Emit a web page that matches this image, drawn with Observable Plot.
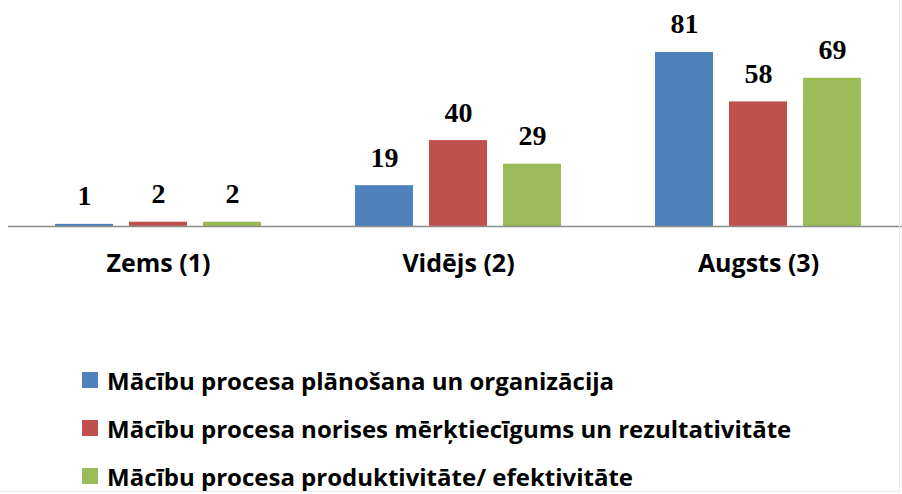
<!DOCTYPE html>
<html>
<head>
<meta charset="utf-8">
<script src="https://cdn.jsdelivr.net/npm/d3@7"></script>
<script src="https://cdn.jsdelivr.net/npm/@observablehq/plot@0.6"></script>
<style>
  html, body { margin: 0; padding: 0; background: #fff; }
  #wrap { position: relative; width: 902px; height: 494px; overflow: hidden; }
  #chart { position: absolute; left: 0; top: 0; }
  .legend-item { position: absolute; left: 82px; height: 30px; display: flex; align-items: center;
    font-family: "Open Sans", Lato, sans-serif; font-weight: bold; font-size: 24px; color: #000; white-space: nowrap; }
  .swatch { width: 16px; height: 16px; margin-right: 9px; flex: none; }
  #edge { position: absolute; left: 0; top: 491px; width: 900px; height: 1px; background: #ececec; }
  #edgeR { position: absolute; left: 899px; top: 0; width: 1px; height: 492px; background: #ececec; }
</style>
</head>
<body>
<div id="wrap">
  <div id="chart"></div>
  <div id="legend"></div>
  <div id="edge"></div>
  <div id="edgeR"></div>
</div>
<script>
const categories = ["Zems (1)", "Vidējs (2)", "Augsts (3)"];
const series = [
  "Mācību procesa plānošana un organizācija",
  "Mācību procesa norises mērķtiecīgums un rezultativitāte",
  "Mācību procesa produktivitāte/ efektivitāte"
];
const colors = ["#4F81BD", "#C0504D", "#9BBB59"];
const planosana = [1, 19, 81];
const norise = [2, 40, 58];
const produktivitate = [2, 29, 69];

const valuesBySeries = [planosana, norise, produktivitate];
const data = [];
categories.forEach((c, ci) => {
  series.forEach((s, si) => {
    data.push({category: c, series: s, value: valuesBySeries[si][ci]});
  });
});

const chart = Plot.plot({
  width: 902,
  height: 300,
  marginLeft: 8,
  marginRight: -6,
  marginTop: 0,
  marginBottom: 74,
  style: {fontFamily: "'Open Sans', Lato, sans-serif", fontWeight: "bold", fontSize: "25px", color: "#000", background: "transparent", overflow: "visible"},
  fx: {domain: categories, padding: 0, axis: "bottom", tickSize: 0, tickPadding: 28, label: null},
  x: {domain: series, paddingInner: 0.213, paddingOuter: 0.607, axis: null},
  y: {domain: [0, 105.2], axis: null},
  color: {domain: series, range: colors},
  marks: [
    Plot.barY(data, {fx: "category", x: "series", y: "value", fill: "series"}),
    Plot.ruleY([0], {stroke: "#8c8c8c", strokeWidth: 1.5}),
    Plot.text(data, {fx: "category", x: "series", y: "value", text: d => String(d.value), dy: -28,
      fontFamily: "'Liberation Serif', 'Times New Roman', serif", fontWeight: "bold", fontSize: 28, fill: "#000"})
  ]
});
document.getElementById("chart").appendChild(chart);

const legend = document.getElementById("legend");
const legendCenters = [380, 428, 476];
series.forEach((s, i) => {
  const item = document.createElement("div");
  item.className = "legend-item";
  item.style.top = (legendCenters[i] - 15) + "px";
  const sw = document.createElement("span");
  sw.className = "swatch";
  sw.style.background = colors[i];
  const label = document.createElement("span");
  label.textContent = s;
  item.appendChild(sw);
  item.appendChild(label);
  legend.appendChild(item);
});
</script>
</body>
</html>
